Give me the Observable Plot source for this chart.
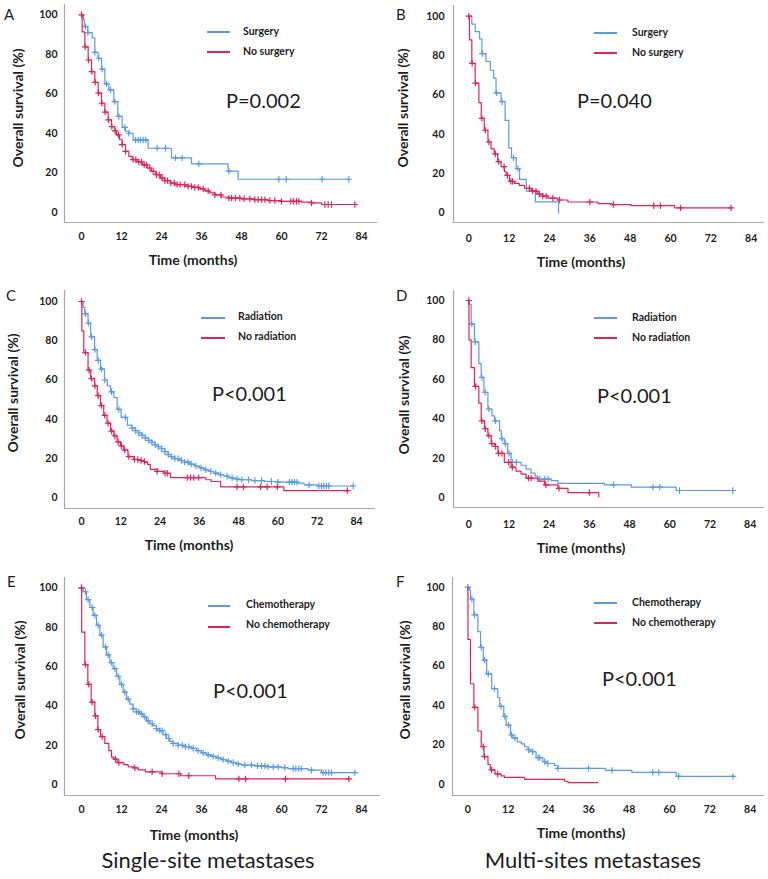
<!DOCTYPE html>
<html><head><meta charset="utf-8">
<script src="https://cdn.jsdelivr.net/npm/d3@7"></script>
<script src="https://cdn.jsdelivr.net/npm/@observablehq/plot@0.6"></script>
<style>
body{margin:0;background:#fff;font-family:Lato,"Open Sans",sans-serif;}
#root{position:relative;width:768px;height:879px;overflow:hidden;background:#fff;}
.panel{position:absolute;width:384px;height:300px;}
.panel svg{position:absolute;left:0;top:0;overflow:visible;}
.t{position:absolute;white-space:nowrap;color:#1d1d1d;line-height:1;}
.letter{font-size:15px;font-weight:400;}
.leg{font-size:10.5px;font-weight:700;}
.pv{font-size:20px;font-weight:400;}
.ax{font-size:14px;font-weight:700;}
.sub{font-size:22px;font-weight:400;}
.legline{position:absolute;height:1.5px;}
</style></head><body><div id="root"></div>
<script>
// ---------- data ----------
const xTicks = [0, 12, 24, 36, 48, 60, 72, 84];
const yTicks = [0, 20, 40, 60, 80, 100];
const xTitle = "Time (months)";
const yTitle = "Overall survival (%)";
const panelLetters = ["A", "B", "C", "D", "E", "F"];
const legendLabels = [
  ["Surgery", "No surgery"], ["Surgery", "No surgery"],
  ["Radiation", "No radiation"], ["Radiation", "No radiation"],
  ["Chemotherapy", "No chemotherapy"], ["Chemotherapy", "No chemotherapy"]
];
const pValues = ["P=0.002", "P=0.040", "P<0.001", "P<0.001", "P<0.001", "P<0.001"];
const columnTitles = ["Single-site metastases", "Multi-sites metastases"];

// Panel A — single-site, surgery vs no surgery
const aSurgT = [0, 0.6, 0.9, 1.9, 3.2, 4.0, 5.0, 6.0, 7.0, 8.2, 9.7, 10.9, 12.2, 13.2, 14.2, 15.5, 20.0, 27.0, 33.0, 44.0, 47.0, 80.2];
const aSurgS = [100, 97.5, 94, 91, 88.3, 81, 78, 72.5, 65, 62, 56, 48.5, 43, 41, 40, 36.6, 32.4, 27.5, 24.5, 20.8, 16.7, 16.7];
const aSurgC = [1.2, 1.9, 4.0, 5.2, 6.2, 7.5, 8.7, 10.0, 11.2, 13.0, 14.2, 16.2, 17.0, 17.7, 18.5, 19.3, 22.7, 25.2, 28.2, 30.2, 35.2, 44.2, 59.2, 61.4, 72.2, 80.2];
const aNoT = [0, 0.2, 1.0, 2.0, 3.0, 4.0, 5.0, 6.0, 7.0, 8.0, 9.0, 10.0, 10.5, 11.4, 12.2, 13.2, 14.2, 15.2, 16.7, 18.2, 19.7, 21.0, 22.2, 23.7, 25.0, 26.7, 28.2, 31.2, 33.2, 35.2, 37.0, 38.5, 40.0, 42.0, 44.0, 48.0, 52.0, 56.0, 60.0, 66.0, 69.0, 72.0, 82.0];
const aNoS = [100, 91.3, 83.8, 77.1, 71.2, 65.8, 60.3, 55.2, 50.7, 46.8, 43.4, 41.2, 39.2, 36.7, 34.2, 30.8, 28.3, 26.6, 25.5, 24.0, 22.4, 20.7, 19.0, 17.3, 16.0, 14.8, 14.0, 13.1, 12.6, 11.8, 10.8, 9.8, 8.8, 7.7, 7.1, 6.8, 6.4, 5.9, 5.5, 5.1, 4.7, 3.9, 3.9];
const aNoC = [0, 1.1, 2.1, 3.1, 4.1, 5.1, 6.1, 7.1, 8.1, 9.1, 10.1, 11.1, 12.2, 13.2, 15.5, 16.3, 17.2, 18.0, 18.8, 19.5, 20.5, 21.5, 22.5, 23.3, 24.2, 25.0, 25.8, 26.8, 27.8, 28.7, 29.6, 31.0, 32.0, 33.0, 34.0, 35.0, 36.5, 38.0, 40.0, 41.8, 44.2, 45.0, 46.2, 47.5, 48.8, 50.5, 52.0, 53.0, 54.0, 55.0, 56.5, 58.0, 60.0, 62.8, 63.6, 64.5, 65.2, 69.0, 73.0, 74.0, 75.0, 82.0];

// Panel B — multi-sites, surgery vs no surgery
const bSurgT = [0, 0.9, 1.9, 3.2, 3.9, 5.1, 6.4, 7.4, 8.1, 9.6, 10.8, 11.9, 12.7, 14.1, 15.1, 17.1, 19.8, 26.7];
const bSurgS = [100, 96, 92.2, 88.5, 81, 77, 72.5, 68.5, 61, 56.5, 47, 33, 28, 22.5, 17, 11, 5.6, 0];
const bSurgC = [4.0, 8.2, 9.9, 13.3, 14.6];
const bNoT = [0, 0.2, 0.9, 1.9, 3.0, 3.7, 4.6, 5.7, 6.6, 7.6, 8.6, 9.6, 10.6, 11.1, 12.1, 13.6, 15.0, 16.6, 18.6, 20.5, 22.0, 23.5, 26.5, 29.5, 38.4, 42.4, 48.3, 61.2, 78.0];
const bNoS = [100, 88, 76, 66, 56, 48, 42, 36, 32.5, 30, 26, 23.5, 21, 19, 16, 15, 14, 12.5, 11, 9.5, 8.5, 7.5, 6.5, 5.5, 4.7, 4.2, 3.6, 2.5, 2.5];
const bNoC = [0, 1.0, 2.0, 3.9, 4.9, 6.0, 7.9, 8.9, 10.5, 11.5, 12.5, 13.0, 18.0, 19.0, 20.0, 21.0, 22.0, 23.0, 25.0, 27.0, 36.0, 43.0, 55.0, 57.0, 63.0, 78.0];

// Panel C — single-site, radiation vs no radiation
const cRadT = [0, 0.5, 1.0, 2.0, 2.8, 4.0, 4.8, 5.8, 7.0, 7.9, 8.9, 9.9, 10.9, 12.1, 14.0, 15.5, 16.5, 17.5, 18.5, 19.5, 20.5, 21.5, 22.5, 23.5, 24.5, 25.5, 26.5, 27.5, 28.5, 30, 31.5, 33, 34.5, 36, 37.5, 39, 40.5, 42, 43.5, 45, 46.5, 48, 52, 56, 60, 66, 68, 72, 83];
const cRadS = [100, 97, 93.7, 89, 82, 75.5, 70, 65.5, 60, 57, 54, 51, 45, 41, 37, 35.5, 34.2, 33, 31.8, 30.5, 29.3, 28.2, 27, 26, 25, 23.5, 22, 21, 20, 19, 18.2, 17.2, 16.2, 15.2, 14.2, 13.4, 12.6, 11.8, 11, 10.2, 9.6, 9.2, 8.8, 8.3, 8.0, 7.5, 6.6, 6.0, 6.0];
const cRadC = [1.2, 2.1, 3.1, 4.1, 5.1, 6.1, 7.1, 9.2, 11.4, 13.4, 15.5, 16.5, 17.5, 18.5, 19.5, 20.5, 21.5, 22.5, 23.5, 24.5, 25.5, 26.5, 27.5, 28.5, 29.5, 30.5, 31.5, 32.5, 33.5, 35, 36.5, 38, 39.5, 41, 42.5, 44.5, 46, 47.5, 49, 51, 53, 55, 58, 60, 63.5, 64.3, 65, 65.8, 69.5, 72.5, 73.3, 74, 74.8, 75.5, 83];
const cNoT = [0, 0.1, 0.7, 2.0, 2.8, 4.0, 4.8, 5.8, 6.8, 7.8, 8.9, 9.9, 10.9, 11.9, 12.9, 14.2, 16.0, 17.3, 18.3, 19.3, 20.2, 21.0, 23.1, 25.2, 27.2, 38.0, 39.6, 42.5, 61.8, 81.2];
const cNoS = [100, 85, 74, 65, 60.7, 57, 52, 47, 42, 38, 34, 31.5, 28.5, 26.5, 24.3, 21, 19.5, 19, 18.5, 18, 17, 14.5, 13.5, 12.5, 10.3, 9.2, 8.3, 5.6, 3.7, 3.7];
const cNoC = [0, 1.2, 2.3, 3.1, 4.1, 5.1, 6.1, 7.1, 8.1, 9.2, 10.2, 11.2, 12.2, 13.2, 14.5, 16.2, 17.2, 18.2, 19.2, 23.1, 25.5, 26.2, 32.3, 33.3, 34.3, 35.8, 47.5, 49.5, 54.7, 56.7, 59.8, 81.2];

// Panel D — multi-sites, radiation vs no radiation
const dRadT = [0, 0.1, 0.7, 1.7, 3.0, 3.7, 4.5, 5.7, 6.9, 7.7, 9.2, 9.7, 10.6, 11.6, 12.6, 15.6, 17.1, 18.6, 19.8, 20.6, 24.6, 26.6, 40.5, 48.5, 61.9, 78.8];
const dRadS = [100, 98, 88, 79, 68, 61, 53.5, 45, 41.5, 39, 34, 30, 27.5, 22.5, 18, 16.5, 14.5, 12.5, 11, 9.5, 8.7, 7.3, 6.6, 5.4, 3.7, 3.7];
const dRadC = [0.9, 1.9, 3.9, 4.9, 6.0, 7.9, 9.9, 10.9, 12.0, 13.0, 14.2, 21.2, 22.7, 23.7, 43.2, 55.0, 57.0, 62.9, 78.8];
const dNoT = [0, 0.05, 0.7, 1.7, 3.0, 3.7, 4.7, 5.7, 6.7, 7.7, 8.7, 10.6, 12.6, 14.1, 15.6, 17.1, 20.6, 22.6, 26.6, 29.6, 38.8];
const dNoS = [100, 80, 66, 56.5, 48, 39, 35, 31.5, 27.5, 26, 22.5, 18, 15.5, 13.5, 12, 10, 8.5, 6.6, 4.8, 2.6, 0.5];
const dNoC = [0, 2.0, 3.9, 4.9, 6.0, 6.9, 8.0, 8.9, 9.9, 11.9, 13.0, 17.8, 18.6, 23.0, 26.9, 36.0];

// Panel E — single-site, chemotherapy vs no chemotherapy
const eChemT = [0, 0.5, 1.5, 2.5, 3.5, 4.5, 5.5, 6.5, 7.5, 8.5, 9.5, 10.5, 11.5, 12.5, 13.5, 14.5, 15.5, 16.5, 17.5, 18.5, 19.5, 20.5, 21.5, 22.5, 23.5, 24.5, 25.5, 26.5, 27.5, 29, 31, 33, 34.5, 36, 37.5, 39, 40.5, 42, 43.5, 45, 46.5, 48, 52, 56, 60, 62, 68, 72, 82];
const eChemS = [100, 98, 94, 90, 86, 81, 76, 70, 66, 62, 59, 55, 51, 47, 43.5, 41, 38.5, 37, 36, 34.5, 32.5, 31, 30, 28.5, 27.5, 25.5, 23.5, 22, 21, 20, 19.4, 18.5, 17.3, 16.2, 15.2, 14.4, 13.7, 12.8, 12, 11.3, 10.6, 10, 9.6, 9.1, 8.7, 8.2, 7.4, 6.2, 6.2];
const eChemC = [0, 1.2, 2.0, 3.2, 4.0, 5.0, 6.0, 7.2, 8.0, 9.0, 10.0, 11.0, 12.0, 13.0, 14.0, 15.5, 16.5, 17.2, 18.0, 19.0, 20.0, 21.2, 22.5, 23.5, 24.2, 25.3, 26.2, 27.5, 29.0, 30.2, 31.2, 32.2, 33.5, 35.0, 36.5, 38.0, 39.5, 41.0, 42.5, 44.0, 45.5, 47.0, 49.0, 51.0, 52.8, 54.0, 55.0, 56.0, 57.5, 59.0, 61.0, 63.5, 64.3, 65.2, 66.0, 69.0, 72.5, 73.3, 74.2, 75.0, 82.0];
const eNoT = [0, 0.05, 1.0, 1.9, 2.9, 4.0, 4.9, 5.7, 7.0, 8.2, 9.0, 9.7, 10.7, 12.7, 14.0, 15.7, 17.0, 19.2, 24.0, 29.7, 40.2, 80.2];
const eNoS = [100, 77.5, 61, 51, 42, 35, 28, 24.5, 21, 17.3, 14, 13, 11.3, 10.2, 9.1, 8.6, 7.6, 6.6, 5.6, 4.6, 3.0, 3.0];
const eNoC = [0, 1.2, 2.2, 3.2, 4.2, 5.0, 6.2, 10.2, 11.2, 16.0, 21.2, 24.2, 29.2, 32.2, 47.2, 49.2, 61.2, 80.2];

// Panel F — multi-sites, chemotherapy vs no chemotherapy
const fChemT = [0, 0.5, 0.8, 1.8, 3.0, 3.8, 4.6, 5.6, 7.1, 8.9, 9.5, 10.7, 11.4, 12.7, 13.4, 14.7, 15.9, 16.9, 17.9, 18.8, 20.3, 22.3, 23.3, 25.8, 26.8, 40.9, 48.8, 62.0, 78.9];
const fChemS = [100, 98.5, 94, 86, 77.5, 69.5, 63, 56, 48.5, 44, 39.5, 34.5, 30, 25, 23.5, 21.5, 20.5, 19, 17.5, 16.5, 13.5, 11.5, 10.5, 9.5, 8, 7, 6, 4, 4];
const fChemC = [0, 1.2, 2.0, 4.0, 5.0, 6.1, 7.9, 9.9, 11.0, 12.1, 13.0, 14.0, 18.1, 19.3, 20.9, 21.4, 22.9, 23.8, 26.8, 35.9, 42.9, 55.0, 56.8, 62.7, 78.9];
const fNoT = [0, 0.05, 0.8, 1.8, 3.0, 4.0, 4.8, 6.0, 6.7, 8.1, 9.9, 10.9, 16.9, 28.8, 29.8, 38.8];
const fNoS = [100, 73.5, 51, 39, 27, 19, 14, 10, 7.3, 5.2, 4.2, 3.5, 2.5, 1.5, 0.8, 0.8];
const fNoC = [2.1, 4.6, 5.0, 7.1, 8.9];

// ---------- styling / layout ----------
const BLUE = "#5b9be3", RED = "#e0245a", AXIS = "#a8a8a8";

const curves = [
  [[aSurgT, aSurgS, aSurgC], [aNoT, aNoS, aNoC]],
  [[bSurgT, bSurgS, bSurgC], [bNoT, bNoS, bNoC]],
  [[cRadT, cRadS, cRadC], [cNoT, cNoS, cNoC]],
  [[dRadT, dRadS, dRadC], [dNoT, dNoS, dNoC]],
  [[eChemT, eChemS, eChemC], [eNoT, eNoS, eNoC]],
  [[fChemT, fChemS, fChemC], [fNoT, fNoS, fNoC]]
];

// pixel layout of each panel (local to its 384-wide cell)
const layout = [
  {left:0,   top:0,   l:64, r:377, t:4, b:222, x0:81,   x84:361,   y100:14.3, y0:211.7, padX:10, padY:7,
   letter:[4,14], leg:{x1:207,x2:230,y1:32,y2:52,tx:243,ty1:30.5,ty2:50.5}, p:[226,100], xt:[193,260], yt:[18,108]},
  {left:384, top:0,   l:69, r:380, t:5, b:222, x0:84.3, x84:366.7, y100:15.7, y0:212.3, padX:12, padY:9,
   letter:[12,14], leg:{x1:210,x2:233,y1:33,y2:53,tx:248,ty1:31.5,ty2:51.5}, p:[193,100], xt:[197,262], yt:[19,108]},
  {left:0,   top:285, l:64, r:375, t:5, b:223, x0:81,   x84:356,   y100:16,   y0:212.3, padX:9,  padY:7,
   letter:[6,10], leg:{x1:201,x2:225,y1:33,y2:53,tx:238,ty1:31,ty2:51}, p:[212,108], xt:[189,260], yt:[13,108]},
  {left:384, top:285, l:69, r:380, t:5, b:222, x0:84.3, x84:365.7, y100:15,   y0:212.3, padX:13, padY:9,
   letter:[12,10], leg:{x1:210,x2:233,y1:33,y2:53,tx:248,ty1:32,ty2:52}, p:[213,110], xt:[197,263], yt:[20,110]},
  {left:0,   top:570, l:64, r:380, t:7, b:225, x0:81,   x84:361,   y100:17.3, y0:214.3, padX:10, padY:7,
   letter:[7,11], leg:{x1:208,x2:230,y1:36,y2:57,tx:246,ty1:34,ty2:54}, p:[213,120], xt:[194,265], yt:[20,110], sub:[208,290]},
  {left:384, top:570, l:68, r:380, t:7, b:225, x0:83.3, x84:365.7, y100:16.7, y0:213.7, padX:10, padY:8,
   letter:[12,11], leg:{x1:210,x2:233,y1:33,y2:53,tx:248,ty1:32,ty2:52}, p:[218,108], xt:[197,263], yt:[21,110], sub:[209,290]}
];

function stepAt(T, S, t) {
  let v = S[0];
  for (let i = 0; i < T.length; i++) { if (T[i] <= t + 1e-9) v = S[i]; else break; }
  return v;
}

const root = document.getElementById("root");

function addText(parent, txt, x, y, cls, align, extra) {
  const d = document.createElement("div");
  d.className = "t " + cls;
  d.textContent = txt;
  d.style.left = x + "px";
  d.style.top = y + "px";
  let tf = align === "center" ? "translate(-50%,-50%)" : "translate(0,-50%)";
  if (extra) tf += " " + extra;
  d.style.transform = tf;
  parent.appendChild(d);
  return d;
}

layout.forEach((L, i) => {
  const cell = document.createElement("div");
  cell.className = "panel";
  cell.style.left = L.left + "px";
  cell.style.top = L.top + "px";
  root.appendChild(cell);

  const ppx = (L.x84 - L.x0) / 84;
  const ppy = (L.y0 - L.y100) / 100;
  const xLo = (L.l - L.x0) / ppx, xHi = (L.r - L.x0) / ppx;
  const yLo = -(L.b - L.y0) / ppy, yHi = 100 + (L.y100 - L.t) / ppy;
  const H = L.b + 30;

  const marks = [
    Plot.ruleX([xLo], {stroke: AXIS, strokeWidth: 1.2}),
    Plot.ruleY([yLo], {stroke: AXIS, strokeWidth: 1.2}),
    Plot.axisX(xTicks, {tickSize: 0, tickPadding: L.padX, label: null, fontSize: 10.5, fontWeight: "bold", fill: "#1d1d1d"}),
    Plot.axisY(yTicks, {tickSize: 0, tickPadding: L.padY, label: null, fontSize: 10.5, fontWeight: "bold", fill: "#1d1d1d"})
  ];
  const colors = [BLUE, RED];
  curves[i].forEach(([T, S, C], k) => {
    const pts = T.map((t, j) => ({t, s: S[j]}));
    const cens = C.map(t => ({t, s: stepAt(T, S, t)}));
    marks.push(Plot.line(pts, {x: "t", y: "s", curve: "step-after", stroke: colors[k], strokeWidth: 1.2}));
    marks.push(Plot.dot(cens, {x: "t", y: "s", symbol: "plus", r: 2.2, stroke: colors[k], strokeWidth: 1.2}));
  });

  const svg = Plot.plot({
    width: 384, height: H,
    marginLeft: L.l, marginRight: 384 - L.r, marginTop: L.t, marginBottom: H - L.b,
    x: {domain: [xLo, xHi]},
    y: {domain: [yLo, yHi]},
    style: {fontFamily: "Lato, 'Open Sans', sans-serif", background: "transparent", color: "#1d1d1d"},
    marks
  });
  cell.appendChild(svg);

  // text overlays
  addText(cell, panelLetters[i], L.letter[0], L.letter[1], "letter", "left");
  const lg = L.leg;
  [[lg.y1, lg.ty1, BLUE, legendLabels[i][0]], [lg.y2, lg.ty2, RED, legendLabels[i][1]]].forEach(([ly, ty, col, lab]) => {
    const ln = document.createElement("div");
    ln.className = "legline";
    ln.style.left = lg.x1 + "px";
    ln.style.width = (lg.x2 - lg.x1) + "px";
    ln.style.top = (ly - 1) + "px";
    ln.style.background = col;
    cell.appendChild(ln);
    addText(cell, lab, lg.tx, ty, "leg", "left");
  });
  addText(cell, pValues[i], L.p[0], L.p[1], "pv", "left");
  addText(cell, xTitle, L.xt[0], L.xt[1], "ax", "center");
  addText(cell, yTitle, L.yt[0], L.yt[1], "ax", "center", "rotate(-90deg)");
  if (L.sub) addText(cell, columnTitles[i === 4 ? 0 : 1], L.sub[0], L.sub[1], "sub", "center");
});
</script></body></html>
